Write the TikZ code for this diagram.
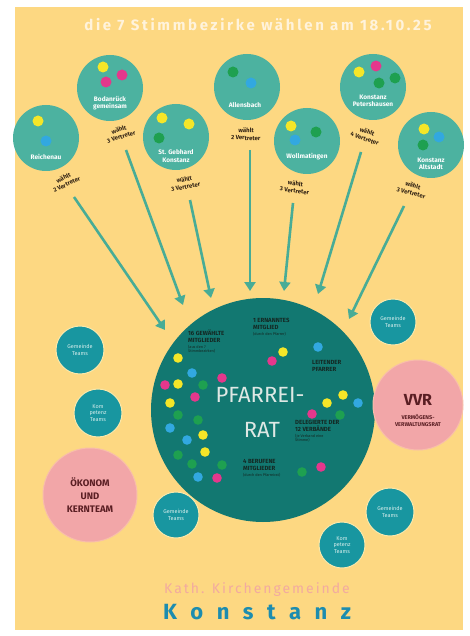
\documentclass[tikz,border=0pt]{standalone}
\usepackage{fontspec}
\setmainfont{Fira Sans}
\usetikzlibrary{arrows.meta}
\definecolor{bgyellow}{RGB}{253,216,130}
\definecolor{topteal}{RGB}{76,178,160}
\definecolor{bigteal}{RGB}{18,120,113}
\definecolor{sideteal}{RGB}{24,150,160}
\definecolor{pinkc}{RGB}{242,166,168}
\definecolor{dotY}{RGB}{245,230,40}
\definecolor{dotM}{RGB}{228,55,140}
\definecolor{dotG}{RGB}{30,160,80}
\definecolor{dotB}{RGB}{50,168,224}
\definecolor{arrowc}{RGB}{72,172,150}
\definecolor{labc}{RGB}{50,35,20}
\definecolor{innertxt}{RGB}{20,40,35}
\definecolor{konst}{RGB}{28,140,175}
\definecolor{kath}{RGB}{242,170,160}
\definecolor{maroonc}{RGB}{90,30,35}
\definecolor{paletxt}{RGB}{215,238,236}
\definecolor{pfarrtxt}{RGB}{222,232,228}
\definecolor{titletxt}{RGB}{255,243,220}
\begin{document}
\begin{tikzpicture}[x=1pt,y=-1pt,
  topc/.style={circle,fill=topteal,minimum size=66pt,inner sep=0pt},
  topname/.style={text=white,font=\fontsize{6.5}{7.5}\selectfont\bfseries,align=center,inner sep=0pt},
  wlabel/.style={text=labc,font=\fontsize{6}{7.5}\selectfont\bfseries,align=center,inner sep=0pt},
  sidec/.style={circle,fill=sideteal,draw={rgb,255:red,250;green,232;blue,170},line width=1pt,inner sep=0pt,minimum size=48pt,text=paletxt,font=\fontsize{5.5}{6.5}\selectfont,align=center},
  pinkcirc/.style={circle,fill=pinkc,draw={rgb,255:red,248;green,190;blue,170},line width=1pt,inner sep=0pt,align=center},
  inblock/.style={text=innertxt,font=\fontsize{6}{7}\selectfont\bfseries,align=left,anchor=north west,inner sep=0pt},
  arr/.style={draw=arrowc,line width=2.6pt,-{Triangle[width=11pt,length=9pt]}}
]
% background
\useasboundingbox (0,0) rectangle (469,636);
\fill[white] (0,0) rectangle (469,636);
\fill[bgyellow] (15,7) rectangle (463,630);

% title
\node[text=titletxt,font=\fontsize{15}{17}\selectfont\bfseries\addfontfeatures{LetterSpace=18}] (title) at (258,25) {die 7 Stimmbezirke wählen am 18.10.25};

% top circles
\node[topc] (c1) at (46,138) {};
\node[topc] (c2) at (110,88) {};
\node[topc] (c3) at (176,137) {};
\node[topc] (c4) at (247,87) {};
\node[topc] (c5) at (307,141) {};
\node[topc] (c6) at (373,87) {};
\node[topc] (c7) at (431,145) {};

\foreach \x/\y/\c in {38/121/dotY,46/141/dotB,
  103/67/dotY,122/75/dotM,106/82/dotM,
  162/118/dotY,189/124/dotY,159/138/dotG,
  233/72/dotG,251/83/dotB,
  291/126/dotY,316/132/dotG,295/140/dotB,
  359/72/dotY,376/66/dotM,379/83/dotG,395/78/dotG,
  424/129/dotY,439/137/dotB,423/145/dotG}
  \fill[\c] (\x,\y) circle (5.5pt);

\node[topname] (n1) at (46,157) {Reichenau};
\node[topname] (n2) at (110,103) {Bodanrück\\gemeinsam};
\node[topname] (n3) at (176,156) {St. Gebhard\\Konstanz};
\node[topname] (n4) at (245,105) {Allensbach};
\node[topname] (n5) at (307,157) {Wollmatingen};
\node[topname] (n6) at (373,101) {Konstanz\\Petershausen};
\node[topname] (n7) at (431,164) {Konstanz\\Altstadt};

% labels
\node[wlabel,rotate=26] (w1) at (65,181) {wählt\\2 Vertreter};
\node[wlabel,rotate=18] (w2) at (120,133) {wählt\\3 Vertreter};
\node[wlabel,rotate=10] (w3) at (185,183) {wählt\\3 Vertreter};
\node[wlabel,rotate=-3] (w4) at (246,134) {wählt\\2 Vertreter};
\node[wlabel,rotate=-8] (w5) at (295,187) {wählt\\3 Vertreter};
\node[wlabel,rotate=-20] (w6) at (366,135) {wählt\\4 Vertreter};
\node[wlabel,rotate=-15] (w7) at (412,189) {wählt\\3 Vertreter};

% big circle
\node[circle,fill=bigteal,minimum size=224pt,inner sep=0pt] (pf) at (263,410) {};

% arrow end points
\coordinate (s1) at (74,197); \coordinate (e1) at (165,330);
\coordinate (s2) at (126,150); \coordinate (e2) at (183,305);
\coordinate (s3) at (190,200); \coordinate (e3) at (211,298);
\coordinate (s4) at (250,150); \coordinate (e4) at (250,291);
\coordinate (s5) at (293,203); \coordinate (e5) at (284,291);
\coordinate (s6) at (361,152); \coordinate (e6) at (318,294);
\coordinate (s7) at (404,206); \coordinate (e7) at (349,319);
\foreach \i in {1,...,7} \draw[arr] (s\i) -- (e\i);

% dots in big circle
\foreach \x/\y/\c in {178/358/dotY,178/384/dotY,170/403/dotY,203/435/dotY,205/452/dotY,283/352/dotY,343/395/dotY,327/403/dotY,
  222/378/dotM,165/385/dotM,195/397/dotM,217/478/dotM,272/361/dotM,312/414/dotM,321/467/dotM,
  203/385/dotG,178/415/dotG,198/420/dotG,178/455/dotG,192/464/dotG,222/465/dotG,340/415/dotG,302/472/dotG,
  192/373/dotB,170/428/dotB,187/440/dotB,198/477/dotB,318/347/dotB,358/403/dotB}
  \fill[\c] (\x,\y) circle (4.8pt);

% inner texts
\node[text=pfarrtxt,font=\fontsize{22}{26}\selectfont] (pf1) at (260,395) {PFARREI-};
\node[text=pfarrtxt,font=\fontsize{22}{26}\selectfont] (pf2) at (262,430) {RAT};

\node[inblock] (b1) at (188,330) {16 GEWÄHLTE\\MITGLIEDER\\[-1pt]{\fontsize{3.8}{4.5}\selectfont\mdseries (aus den 7}\\[-3pt]{\fontsize{3.8}{4.5}\selectfont\mdseries Stimmbezirken)}};
\node[inblock] (b2) at (253,318) {1 ERNANNTES\\MITGLIED\\[-1pt]{\fontsize{3.8}{4.5}\selectfont\mdseries (durch den Pfarrer)}};
\node[inblock] (b3) at (312,360) {LEITENDER\\PFARRER};
\node[inblock] (b4) at (295,420) {DELEGIERTE DER\\12 VERBÄNDE\\[-1pt]{\fontsize{3.8}{4.5}\selectfont\mdseries (je Verband eine}\\[-3pt]{\fontsize{3.8}{4.5}\selectfont\mdseries Stimme)}};
\node[inblock] (b5) at (243,459) {4 BERUFENE\\MITGLIEDER\\[-1pt]{\fontsize{3.8}{4.5}\selectfont\mdseries (durch den Pfarreirat)}};

% side circles
\node[sidec] (g1) at (80,350) {Gemeinde\\Teams};
\node[sidec] (k1) at (98,413) {Kom\\petenz\\Teams};
\node[sidec,minimum size=46pt] (g2) at (393,322) {Gemeinde\\Teams};
\node[sidec,minimum size=46pt] (g3) at (176,515) {Gemeinde\\Teams};
\node[sidec] (g4) at (390,512) {Gemeinde\\Teams};
\node[sidec,minimum size=46pt] (k2) at (342,545) {Kom\\petenz\\Teams};

\node[pinkcirc,minimum size=94pt,text=maroonc,font=\fontsize{9.5}{13}\selectfont\bfseries] (ok) at (90,495) {ÖKONOM\\UND\\KERNTEAM};
\node[pinkcirc,minimum size=90pt] (vvr) at (418,405) {};
\node[text=maroonc,font=\fontsize{16}{18}\selectfont\bfseries] (vvrt) at (418,400) {VVR};
\node[text=maroonc,font=\fontsize{5.5}{7}\selectfont\bfseries,align=center] (vvrs) at (418,420) {VERMÖGENS-\\VERWALTUNGSRAT};

% bottom text
\node[text=kath,font=\fontsize{14}{16}\selectfont\addfontfeatures{LetterSpace=14}] (kath) at (257,590) {Kath. Kirchengemeinde};
\node[text=konst,font=\fontsize{22}{26}\selectfont\bfseries] (konst) at (257,612) {K\hspace{13.5pt}o\hspace{13.5pt}n\hspace{13.5pt}s\hspace{13.5pt}t\hspace{13.5pt}a\hspace{13.5pt}n\hspace{13.5pt}z};
\end{tikzpicture}
\end{document}
